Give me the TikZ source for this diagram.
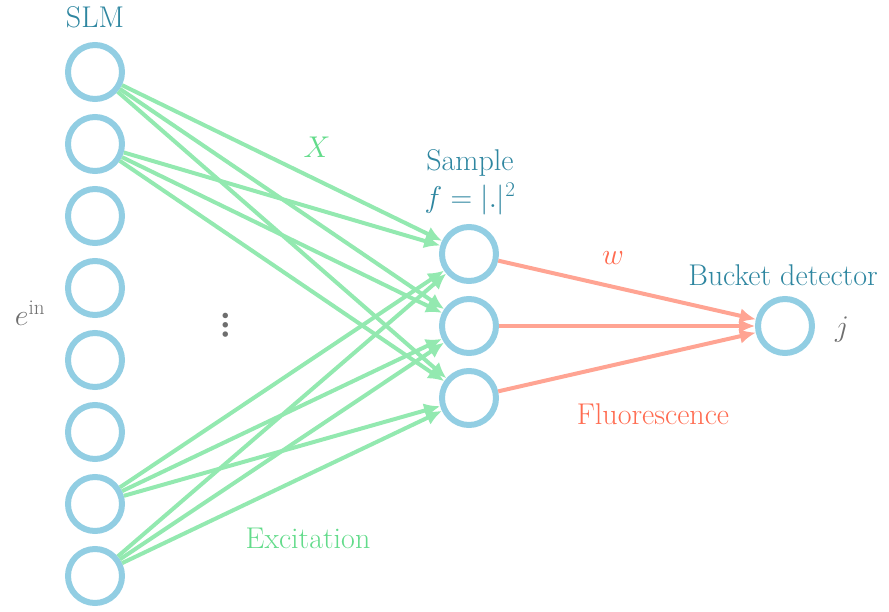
\RequirePackage{fix-cm}
\documentclass[tikz,border=0pt]{standalone}
\usepackage{fontspec}
\usetikzlibrary{arrows.meta}
\definecolor{cblue}{HTML}{92CEE3}
\definecolor{cgreen}{HTML}{93E9B0}
\definecolor{cred}{HTML}{FFA493}
\definecolor{tteal}{HTML}{2E86A0}
\definecolor{tgreen}{HTML}{62DB8A}
\definecolor{tred}{HTML}{FF6B50}
\definecolor{tgray}{HTML}{6E6E6E}
\begin{document}
\begin{tikzpicture}[x=1pt,y=-1pt,
  neuron/.style={circle,draw=cblue,line width=6pt,minimum size=54pt,inner sep=0pt},
  exc/.style={draw=cgreen,line width=4pt,-{Latex[length=16pt,width=15pt]}},
  flu/.style={draw=cred,line width=4pt,-{Latex[length=16pt,width=15pt]}},
  lbl/.style={font=\fontsize{30}{34}\selectfont,inner sep=0pt}]
\useasboundingbox (0,0) rectangle (889,612);
\foreach \i in {1,...,8} {
  \node[neuron] (s\i) at (95,{72*\i}) {};
}
\node[neuron] (m1) at (469,254) {};
\node[neuron] (m2) at (469,326) {};
\node[neuron] (m3) at (469,398) {};
\node[neuron] (b) at (785,326) {};
\foreach \i in {1,2,7,8} {
  \foreach \j in {1,2,3} {
    \draw[exc] (s\i) -- (m\j);
  }
}
\foreach \j in {1,2,3} {
  \draw[flu] (m\j) -- (b);
}
\node[lbl,text=tteal] (slm) at (95,17) {SLM};
\node[lbl,text=tgreen] (xl) at (317,147) {$X$};
\node[lbl,text=tteal] (smp) at (470,163) {Sample};
\node[lbl,text=tteal] (fl) at (470,199) {$f=|.|^2$};
\node[lbl,text=tred] (wl) at (613,258) {$w$};
\node[lbl,text=tteal] (bd) at (783,275) {Bucket detector};
\node[lbl,text=tgray] (jl) at (842,330) {$j$};
\node[lbl,text=tgray] (ein) at (30,313) {$e^{\mathrm{in}}$};
\node[text=tgray,inner sep=0pt,rotate=90,font=\fontsize{38}{40}\selectfont\bfseries] (dots) at (226,325) {…};
\node[lbl,text=tred] (fluo) at (653,414) {Fluorescence};
\node[lbl,text=tgreen] (exl) at (308,538) {Excitation};
\end{tikzpicture}
\end{document}
